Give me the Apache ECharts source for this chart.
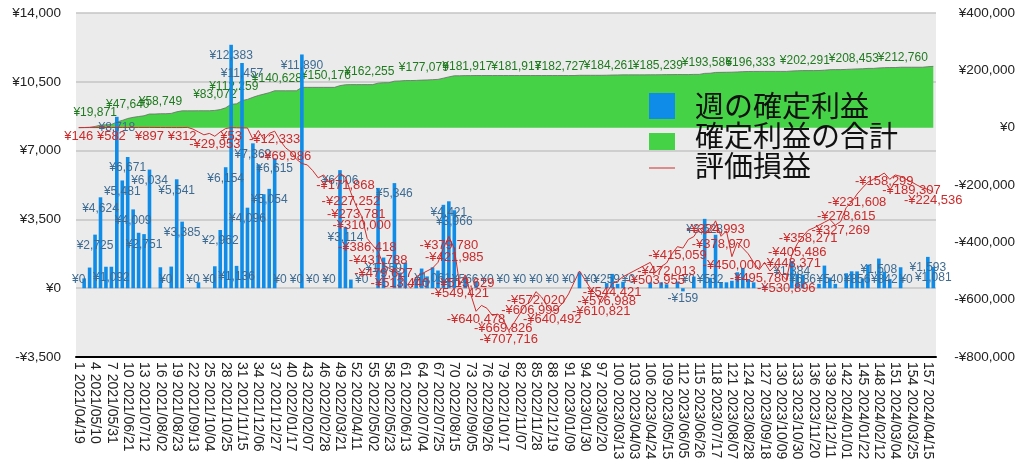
<!DOCTYPE html>
<html><head><meta charset="utf-8">
<script src="https://cdn.jsdelivr.net/npm/echarts@6/dist/echarts.min.js"></script>
<style>html,body{margin:0;padding:0;background:#fff}#c{width:1024px;height:474px}</style>
</head><body><div id="c"></div>
<script>
const dates = [
'2021/04/19','2021/04/26','2021/05/03','2021/05/10','2021/05/17','2021/05/24','2021/05/31','2021/06/07','2021/06/14','2021/06/21','2021/06/28','2021/07/05','2021/07/12','2021/07/19','2021/07/26','2021/08/02','2021/08/09','2021/08/16','2021/08/23','2021/08/30','2021/09/06','2021/09/13','2021/09/20','2021/09/27','2021/10/04','2021/10/11','2021/10/18','2021/10/25','2021/11/01','2021/11/08','2021/11/15','2021/11/22','2021/11/29','2021/12/06','2021/12/13','2021/12/20','2021/12/27',
'2022/01/03','2022/01/10','2022/01/17','2022/01/24','2022/01/31','2022/02/07','2022/02/14','2022/02/21','2022/02/28','2022/03/07','2022/03/14','2022/03/21','2022/03/28','2022/04/04','2022/04/11','2022/04/18','2022/04/25','2022/05/02','2022/05/09','2022/05/16','2022/05/23','2022/05/30','2022/06/06','2022/06/13','2022/06/20','2022/06/27','2022/07/04','2022/07/11','2022/07/18','2022/07/25','2022/08/01','2022/08/08','2022/08/15','2022/08/22','2022/08/29','2022/09/05','2022/09/12','2022/09/19','2022/09/26','2022/10/03','2022/10/10','2022/10/17','2022/10/24','2022/10/31','2022/11/07','2022/11/14','2022/11/21','2022/11/28','2022/12/05','2022/12/12','2022/12/19','2022/12/26',
'2023/01/02','2023/01/09','2023/01/16','2023/01/23','2023/01/30','2023/02/06','2023/02/13','2023/02/20','2023/02/27','2023/03/06','2023/03/13','2023/03/20','2023/03/27','2023/04/03','2023/04/10','2023/04/17','2023/04/24','2023/05/01','2023/05/08','2023/05/15','2023/05/22','2023/05/29','2023/06/05','2023/06/12','2023/06/19','2023/06/26','2023/07/03','2023/07/10','2023/07/17','2023/07/24','2023/07/31','2023/08/07','2023/08/14','2023/08/21','2023/08/28','2023/09/04','2023/09/11','2023/09/18','2023/09/25','2023/10/02','2023/10/09','2023/10/16','2023/10/23','2023/10/30','2023/11/06','2023/11/13','2023/11/20','2023/11/27','2023/12/04','2023/12/11','2023/12/18','2023/12/25',
'2024/01/01','2024/01/08','2024/01/15','2024/01/22','2024/01/29','2024/02/05','2024/02/12','2024/02/19','2024/02/26','2024/03/04','2024/03/11','2024/03/18','2024/03/25','2024/04/01','2024/04/08','2024/04/15','2024/04/22'];

// 週の確定利益 (left axis)
const weeklyProfit = [
0,500,1050,2725,4624,1092,1092,8718,5481,6671,
4009,2820,2751,6034,0,1065,0,1100,5541,3385,
0,0,300,0,0,1115,2962,6154,12383,1136,
11457,4096,7369,6300,4780,5054,6615,0,0,0,
0,11890,0,0,0,0,0,0,6006,3114,
440,0,0,0,0,5100,1559,0,5346,800,
1300,0,500,1000,600,1061,900,4242,4421,3966,
0,566,0,306,0,0,0,0,0,0,
0,0,0,0,0,0,0,0,0,0,
0,0,810,0,0,0,0,259,727,220,
328,0,0,0,0,300,0,300,200,0,
337,-159,0,590,0,3528,532,2720,300,300,
377,810,1030,470,300,0,137,0,0,0,
0,1384,730,686,0,0,220,1150,540,220,
0,760,860,856,500,1200,0,1508,842,470,
0,1065,0,0,0,0,1593,1081];

// 確定利益の合計 (right axis)
const cumulativeProfit = [
0,500,1550,4275,8899,9991,11083,19871,25352,32023,
36032,38852,41603,47640,47640,48705,48705,49805,55364,58749,
58749,58749,59049,59049,59049,60164,63126,69280,81663,83072,
94529,98625,105994,112259,117039,122093,128738,128738,128738,128738,
128738,140628,140628,140628,140628,140628,140628,140628,146634,149748,
150176,150176,150176,150176,150176,155276,156835,156835,162255,163055,
164355,164355,164855,165855,166455,167516,168416,172658,177079,181045,
181045,181611,181611,181917,181917,181917,181917,181917,181917,181917,
181917,181917,181917,181917,181917,181917,181917,181917,181917,181917,
181917,181917,182727,182727,182727,182727,182727,182986,183713,183933,
184261,184261,184261,184261,184261,184561,184561,184861,185061,185061,
185398,185239,185239,185829,185829,189357,189889,192609,192909,193209,
193586,194396,195426,195896,196196,196196,196333,196333,196333,196333,
196333,197717,198447,199133,199133,199133,199353,200503,202291,202511,
202511,203271,204131,204987,205487,206687,206687,208453,209295,209765,
209765,210830,210830,210830,210830,210830,212760,213841];

// 評価損益 (right axis)
const unrealizedPL = [
146,250,400,300,450,500,582,700,800,600,
700,850,800,897,700,500,400,350,300,312,
1000,-5000,-15000,-25000,-20000,-29953,-15000,-3000,53,-500,
-800,-1000,-40000,-10000,-42000,-20000,-12333,-45000,-69986,-85000,
-110000,-125000,-130000,-150000,-175000,-165000,-190000,-180000,-160000,-171868,
-227252,-273781,-310000,-386418,-410000,-431788,-479627,-490000,-500000,-513440,
-540000,-560000,-520000,-510000,-500000,-490000,-470000,-420000,-379780,-421985,
-549421,-513629,-580000,-640478,-620000,-630000,-655000,-650000,-669826,-707716,
-680000,-650000,-620000,-606999,-572020,-590000,-620000,-640492,-630000,-610000,
-580000,-540000,-500000,-530000,-560000,-580000,-610821,-576988,-544421,-535000,
-520000,-510000,-500000,-490000,-480000,-470000,-503955,-485000,-472013,-440000,
-415059,-420000,-390000,-380000,-350000,-370000,-360000,-324993,-378970,-360000,
-450000,-400000,-420000,-440000,-470000,-495780,-470000,-500000,-480000,-510000,
-530896,-443371,-405486,-380000,-358271,-350000,-340000,-330000,-320000,-340000,
-327269,-278615,-260000,-231608,-210000,-190000,-180000,-170000,-158299,-180000,
-165000,-170000,-180000,-189307,-200000,-210000,-215000,-224536];

// weeks whose value labels are visible in the reference
const weeklyLabelWeeks = [1,4,5,7,8,9,10,11,13,14,17,19,20,22,25,27,28,29,30,31,32,33,36,37,38,41,42,44,47,49,50,53,57,59,66,69,70,72,76,79,82,85,88,91,95,98,102,112,113,116,117,132,134,139,144,148,149,153,157,158];
const cumulativeLabelWeeks = [8,14,20,30,34,42,51,59,69,77,86,94,103,112,121,129,139,148,157];
const unrealizedLabelWeeks = [1,7,14,20,26,29,37,39,50,51,52,53,54,56,57,60,69,70,71,72,74,79,80,84,85,88,97,98,99,107,109,111,118,119,121,126,131,132,133,135,141,142,144,149,154,158];

const leftTicks = [-3500,0,3500,7000,10500,14000];
const rightTicks = [-800000,-600000,-400000,-200000,0,200000,400000];

const yen = v => (v < 0 ? '-' : '') + '¥' + Math.abs(v).toLocaleString('en-US');
const categories = dates.map((d, i) => (i + 1) + ' ' + d);
const FONT = 'Liberation Sans, Arial, Helvetica, sans-serif';

const chart = echarts.init(document.getElementById('c'), null, {renderer: 'canvas'});

function barData(ppu) {
  return weeklyProfit.map((v, i) => {
    const show = weeklyLabelWeeks.includes(i + 1);
    let position = 'insideTop', distance = 5;
    const h = Math.abs(v) * ppu;
    if (v < 0) { position = 'bottom'; distance = 1; }
    else if (h < 20) { position = 'insideBottom'; distance = 3; }
    return {value: v, label: {show, position, distance}};
  });
}

function makeOption(ppu) {
  return {
    animation: false,
    textStyle: {fontFamily: FONT},
    grid: {left: 76, right: 88, top: 13, bottom: 117, show: true, backgroundColor: '#ebebeb', borderWidth: 0, containLabel: false},
    legend: {
      orient: 'vertical', left: 644, top: 86, itemWidth: 26, itemHeight: 30, itemGap: 0,
      selectedMode: false,
      textStyle: {fontSize: 29, lineHeight: 30, color: '#111', fontFamily: 'Noto Sans CJK JP', padding: [0, 0, 0, 15]},
      data: [
        {name: '週の確定利益', icon: 'path://M0,0L0.01,0L0.01,0.01ZM0,2H26V28H0ZM25.99,29.99L26,29.99L26,30Z', itemStyle: {color: '#0e8ce8', borderWidth: 0}},
        {name: '確定利益の合計', icon: 'path://M0,0L0.01,0L0.01,0.01ZM0,12H26V29H0ZM25.99,29.99L26,29.99L26,30Z', itemStyle: {color: '#46d246', borderWidth: 0}},
        {name: '評価損益', icon: 'path://M0,0L0.01,0L0.01,0.01ZM0,16.5H26V17.5H0ZM25.99,29.99L26,29.99L26,30Z', itemStyle: {color: '#d02c2c', borderWidth: 0}}
      ]
    },
    graphic: [{type: 'rect', left: 644, top: 117.5, shape: {width: 26, height: 1}, style: {fill: '#555'}, silent: true}],
    xAxis: {
      type: 'category', data: categories, boundaryGap: true,
      axisLine: {onZero: false, lineStyle: {color: '#000', width: 2}},
      axisTick: {show: false},
      axisLabel: {interval: 2, rotate: -90, fontSize: 14, color: '#222', margin: 5, fontFamily: FONT},
      splitLine: {show: false}
    },
    yAxis: [
      {type: 'value', min: leftTicks[0], max: leftTicks[leftTicks.length - 1], interval: leftTicks[1] - leftTicks[0],
       axisLine: {show: false}, axisTick: {show: false},
       axisLabel: {formatter: yen, fontSize: 13.5, color: '#222', margin: 15, fontFamily: FONT},
       splitLine: {lineStyle: {color: '#c4c4c4', width: 1.5}}},
      {type: 'value', min: rightTicks[0], max: rightTicks[rightTicks.length - 1], interval: rightTicks[1] - rightTicks[0],
       position: 'right', axisLine: {show: false}, axisTick: {show: false},
       axisLabel: {formatter: yen, fontSize: 13.5, color: '#222', margin: 79, align: 'right', fontFamily: FONT},
       splitLine: {show: false}}
    ],
    series: [
      {name: '確定利益の合計', type: 'line', yAxisIndex: 1, z: 1,
       data: cumulativeProfit.map((v, i) => ({value: v, label: {show: cumulativeLabelWeeks.includes(i + 1)}})),
       symbol: 'circle', symbolSize: 0.1, showSymbol: true, showAllSymbol: true,
       lineStyle: {color: '#6a6a6a', width: 0.8}, itemStyle: {color: '#46d246'},
       areaStyle: {color: '#46d246', opacity: 1},
       label: {position: 'top', align: 'right', distance: 3, color: '#1f7a1f', fontSize: 12, formatter: p => yen(p.value)},
       emphasis: {disabled: true}, silent: true},
      {name: '週の確定利益', type: 'bar', yAxisIndex: 0, z: 2,
       data: barData(ppu), barWidth: 3.6,
       itemStyle: {color: '#0e8ce8', borderWidth: 0},
       label: {color: '#3d6b92', fontSize: 12, textBorderWidth: 0, formatter: p => yen(p.value)},
       emphasis: {disabled: true}, silent: true},
      {name: '評価損益', type: 'line', yAxisIndex: 1, z: 3,
       data: unrealizedPL.map((v, i) => ({value: v, label: {show: unrealizedLabelWeeks.includes(i + 1)}})),
       symbol: 'circle', symbolSize: 0.1, showSymbol: true, showAllSymbol: true,
       lineStyle: {color: '#d02c2c', width: 1}, itemStyle: {color: '#d02c2c'},
       label: {position: 'bottom', distance: 2, color: '#cc2a2a', fontSize: 13, formatter: p => yen(p.value)},
       emphasis: {disabled: true}, silent: true}
    ]
  };
}

chart.setOption(makeOption(0.0196));
const y0 = chart.convertToPixel({yAxisIndex: 0}, 0);
const y1 = chart.convertToPixel({yAxisIndex: 0}, 1000);
const ppu = Math.abs(y0 - y1) / 1000;
chart.setOption(makeOption(ppu), true);
</script></body></html>
